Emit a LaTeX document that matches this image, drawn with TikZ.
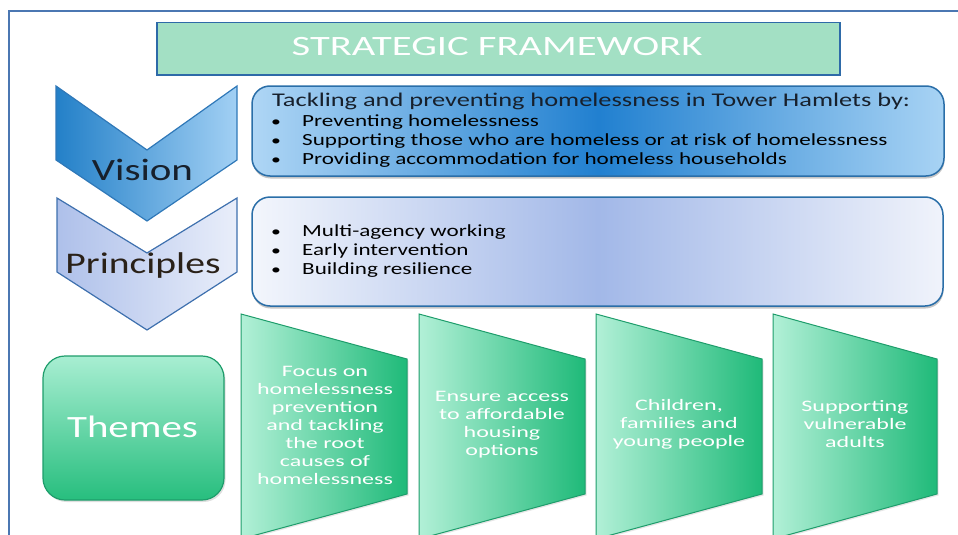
\documentclass[tikz,border=0pt]{standalone}
\usepackage{fontspec}
\setmainfont{Carlito}
\newfontfamily\titlefont[FakeStretch=1.45]{Carlito}
\newfontfamily\bodyfont[FakeStretch=1.36]{Carlito}
\newfontfamily\labelfont[FakeStretch=1.32]{Carlito}
\newfontfamily\themefont[FakeStretch=1.5]{Carlito}
\usetikzlibrary{shadows}
\definecolor{frameblue}{HTML}{4B77B2}
\definecolor{titlefill}{HTML}{A3E0C4}
\definecolor{titledraw}{HTML}{2E6AA8}
\definecolor{visL}{HTML}{2380C8}
\definecolor{visR}{HTML}{A2D0F4}
\definecolor{visDraw}{HTML}{2F78B8}
\definecolor{vboxL}{HTML}{AFD6F5}
\definecolor{vboxM}{HTML}{2180D0}
\definecolor{vboxR}{HTML}{A8D3F4}
\definecolor{vboxDraw}{HTML}{2A6EA8}
\definecolor{priL}{HTML}{AEC0EA}
\definecolor{priR}{HTML}{E9EEFA}
\definecolor{priDraw}{HTML}{3E70AE}
\definecolor{pboxL}{HTML}{F3F6FC}
\definecolor{pboxM}{HTML}{A2B8E8}
\definecolor{pboxR}{HTML}{F0F3FB}
\definecolor{grTop}{HTML}{A8EED2}
\definecolor{grBot}{HTML}{27BE7E}
\definecolor{grLight}{HTML}{B2F0D7}
\definecolor{grDark}{HTML}{1FBA79}
\definecolor{grDraw}{HTML}{1E9D6B}
\definecolor{darktext}{HTML}{17202C}
\definecolor{pritext}{HTML}{2A2118}
\tikzset{
  chev/.style={line width=1.2pt, line join=miter},
  bluebox/.style={rounded corners=18pt, line width=1.5pt,
    drop shadow={opacity=0.45, shadow xshift=0.5pt, shadow yshift=-2.5pt}},
  trap/.style={draw=grDraw, line width=1pt, left color=grLight, right color=grDark,
    drop shadow={opacity=0.2, shadow xshift=1.5pt, shadow yshift=-1.5pt}},
  bodytext/.style={anchor=base west, inner sep=0pt, text=black,
    font=\bodyfont\fontsize{17}{20}\selectfont},
  bul/.style={anchor=base west, inner sep=0pt, text=black,
    font=\bodyfont\fontsize{14.5}{20}\selectfont},
  themetext/.style={align=center, text=white, inner sep=0pt,
    font=\themefont\fontsize{16}{18}\selectfont},
}
\begin{document}
\begin{tikzpicture}[x=1pt,y=-1pt]
\useasboundingbox (0,0) rectangle (958,535);
\clip (0,0) rectangle (958,535);
% outer frame
\draw[frameblue, line width=1.5pt] (9,540) -- (9,11) -- (962,11);
% title
\node[draw=titledraw, fill=titlefill, line width=1.5pt, minimum width=683pt,
  minimum height=52pt, anchor=north west, inner sep=0pt] (title) at (156,22) {};
\node[anchor=base, inner sep=0pt, text=white, font=\titlefont\fontsize{28}{32}\selectfont]
  (titletext) at (497,56) {STRATEGIC FRAMEWORK};
% vision chevron
\draw[chev, draw=visDraw, left color=visL, right color=visR]
  (56,86) -- (147,150) -- (237,86) -- (237,160) -- (147,221) -- (56,160) -- cycle;
\node[anchor=base, inner sep=0pt, text=darktext, font=\labelfont\fontsize{31}{36}\selectfont]
  (vision) at (142.5,180) {Vision};
% principles chevron
\draw[chev, draw=priDraw, left color=priL, right color=priR]
  (57,198) -- (147,253) -- (237,198) -- (237,272) -- (147,330) -- (57,272) -- cycle;
\node[anchor=base, inner sep=0pt, text=pritext, font=\labelfont\fontsize{30}{36}\selectfont]
  (principles) at (143,273) {Principles};
% vision box
\path[bluebox, draw=vboxDraw, left color=vboxL, right color=vboxR, middle color=vboxM]
  (252,86) rectangle (944,176);
\node[bodytext, font=\bodyfont\fontsize{19.4}{23}\selectfont, text=darktext]
  (vhead) at (272,106) {Tackling and preventing homelessness in Tower Hamlets by:};
\node[bul] (vb1) at (271,126) {•};
\node[bodytext] (v1) at (302,126) {Preventing homelessness};
\node[bul] (vb2) at (271,145) {•};
\node[bodytext] (v2) at (302,145) {Supporting those who are homeless or at risk of homelessness};
\node[bul] (vb3) at (271,164) {•};
\node[bodytext] (v3) at (302,164) {Providing accommodation for homeless households};
% principles box
\path[bluebox, draw=vboxDraw, left color=pboxL, right color=pboxR, middle color=pboxM]
  (252,197) rectangle (943,306);
\node[bul] (pb1) at (271,236) {•};
\node[bodytext] (p1) at (302,236) {Multi-agency working};
\node[bul] (pb2) at (271,255) {•};
\node[bodytext] (p2) at (302,255) {Early intervention};
\node[bul] (pb3) at (271,274) {•};
\node[bodytext] (p3) at (302,274) {Building resilience};
% themes box
\path[draw=grDraw, line width=1.2pt, rounded corners=22pt, top color=grTop, bottom color=grBot,
  drop shadow={opacity=0.25, shadow xshift=1.5pt, shadow yshift=-2pt}]
  (43,356) rectangle (224,500);
\node[anchor=base, inner sep=0pt, text=white, font=\labelfont\fontsize{31}{36}\selectfont]
  (themes) at (132.5,437) {Themes};
% theme trapezoids
\path[trap] (241,314) -- (407,359) -- (407,494) -- (241,539) -- cycle;
\path[trap] (419,314) -- (585,359) -- (585,494) -- (419,539) -- cycle;
\path[trap] (596,314) -- (762,359) -- (762,494) -- (596,539) -- cycle;
\path[trap] (773,314) -- (937,359) -- (937,494) -- (773,539) -- cycle;
\node[themetext] (t1) at (325,425.5) {Focus on\\homelessness\\prevention\\and tackling\\the root\\causes of\\homelessness};
\node[themetext] (t2) at (502,424.5) {Ensure access\\to affordable\\housing\\options};
\node[themetext] (t3) at (679,424.5) {Children,\\families and\\young people};
\node[themetext] (t4) at (855,424.5) {Supporting\\vulnerable\\adults};
\end{tikzpicture}
\end{document}
